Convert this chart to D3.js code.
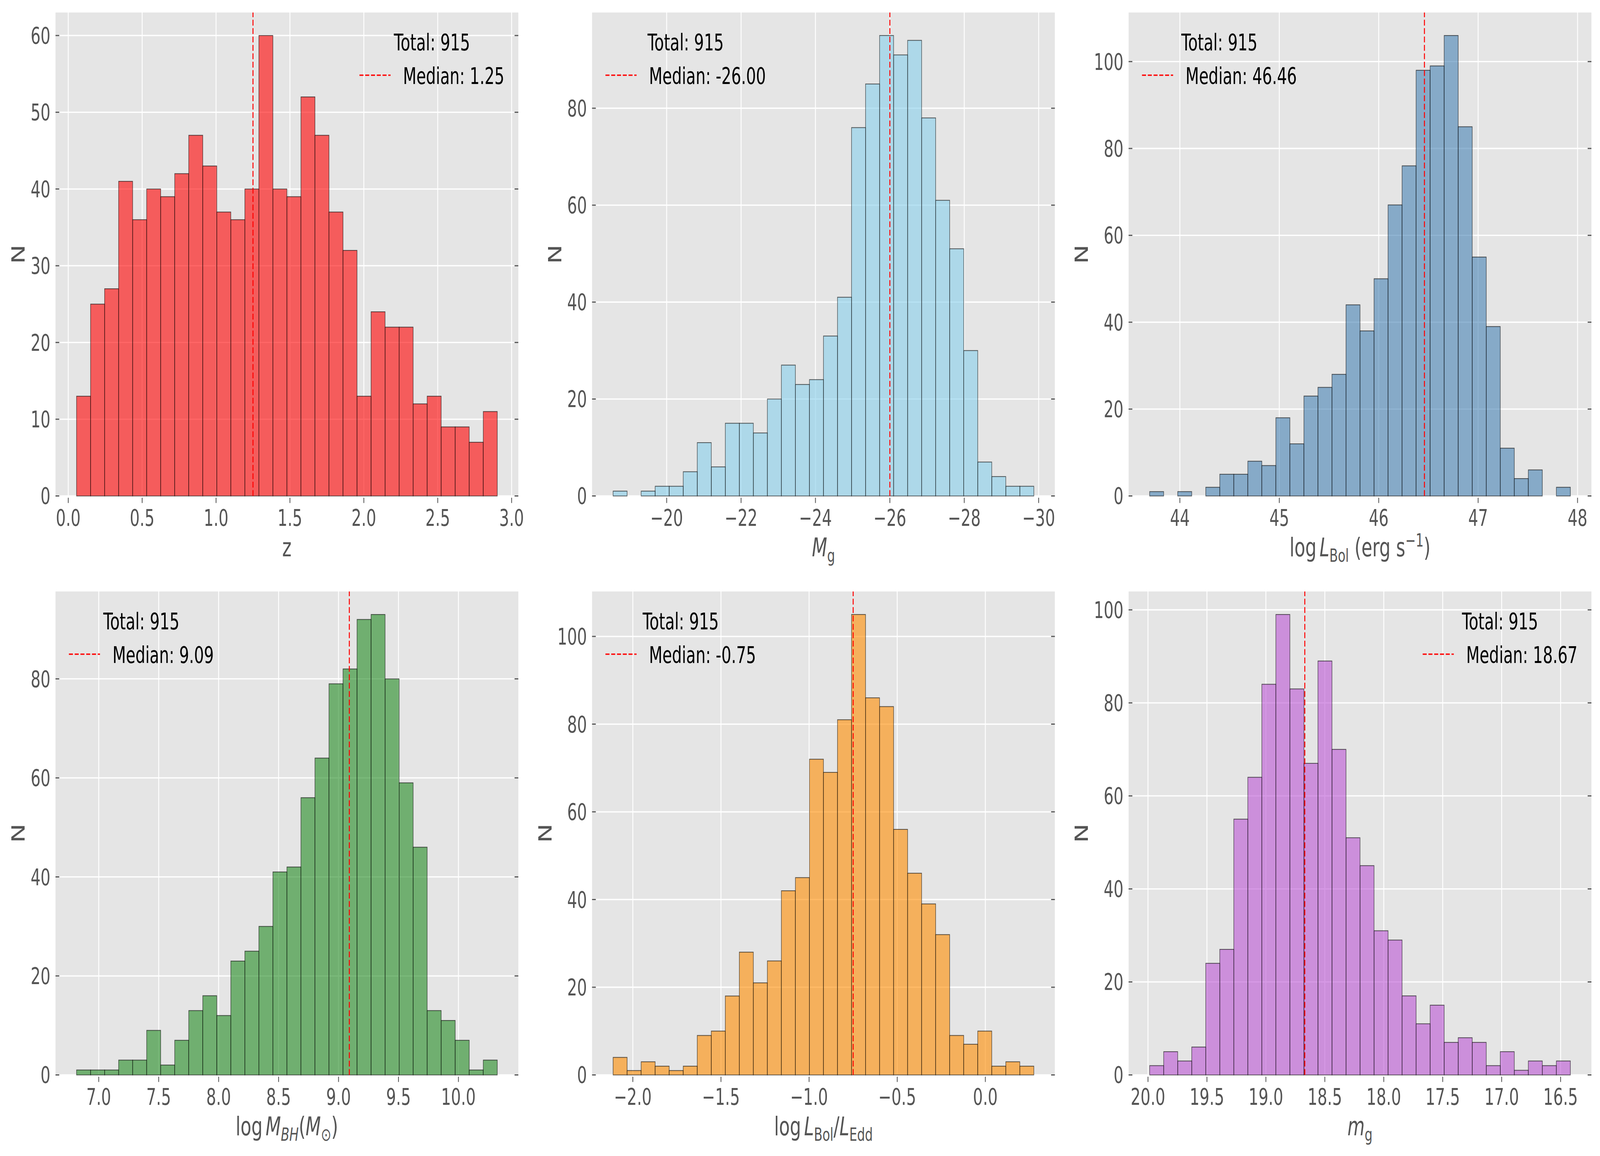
<!DOCTYPE html>
<html>
<head>
<meta charset="utf-8">
<script src="https://cdn.jsdelivr.net/npm/d3@7"></script>
<style>
html, body { margin: 0; padding: 0; background: #fff; overflow: hidden; width: 100%; height: 100%; }
#chart svg { display: block; width: 100vw; height: 100vh; }
text { font-family: "DejaVu Sans", sans-serif; }
</style>
</head>
<body>
<div id="chart"></div>
<script>
// ---- data (30 bins each, 915 objects) ----
var zCounts = [13,25,27,41,36,40,39,42,47,43,37,36,40,60,40,39,52,47,37,32,13,24,22,22,12,13,9,9,7,11];
var zRange = [0.056, 2.903];
var zTicks = [0, 0.5, 1, 1.5, 2, 2.5, 3];
var zYTicks = [0, 10, 20, 30, 40, 50, 60];
var zMedian = 1.25;

var MgCounts = [2,2,4,7,30,51,61,78,94,91,95,85,76,41,33,24,23,27,20,13,15,15,6,11,5,2,2,1,0,1];
var MgRange = [-29.87, -18.56];
var MgTicks = [-20, -22, -24, -26, -28, -30];
var MgYTicks = [0, 20, 40, 60, 80];
var MgMedian = -26.00;

var LbolCounts = [1,0,1,0,2,5,5,8,7,18,12,23,25,28,44,38,50,67,76,98,99,106,85,55,39,11,4,6,0,2];
var LbolRange = [43.696, 47.928];
var LbolTicks = [44, 45, 46, 47, 48];
var LbolYTicks = [0, 20, 40, 60, 80, 100];
var LbolMedian = 46.46;

var MbhCounts = [1,1,1,3,3,9,2,7,13,16,12,23,25,30,41,42,56,64,79,82,92,93,80,59,46,13,11,7,1,3];
var MbhRange = [6.815, 10.324];
var MbhTicks = [7, 7.5, 8, 8.5, 9, 9.5, 10];
var MbhYTicks = [0, 20, 40, 60, 80];
var MbhMedian = 9.09;

var EddCounts = [4,1,3,2,1,2,9,10,18,28,21,26,42,45,72,69,81,105,86,84,56,46,39,32,9,7,10,2,3,2];
var EddRange = [-2.112, 0.275];
var EddTicks = [-2, -1.5, -1, -0.5, 0];
var EddYTicks = [0, 20, 40, 60, 80, 100];
var EddMedian = -0.75;

var mgCounts = [3,2,3,1,5,2,7,8,7,15,11,17,29,31,45,51,70,89,67,83,99,84,64,55,27,24,6,3,5,2];
var mgRange = [16.417, 19.986];
var mgTicks = [20, 19.5, 19, 18.5, 18, 17.5, 17, 16.5];
var mgYTicks = [0, 20, 40, 60, 80, 100];
var mgMedian = 18.67;

var total = 915;

// ---- figure layout ----
var W = 5967, H = 2959;
var colLeft = [207, 2208, 4209], panelW = 1726;
var rowTop = [32, 1514], panelH = 1237.5;
var tickFont = 58, labelFont = 66, legendFont = 58;

var panels = [
	{counts: zCounts, range: zRange, ticks: zTicks, yticks: zYTicks, median: zMedian,
	 color: 'red', flip: false, fmt: d3.format('.1f'), legend: 'right',
	 xlabel: [['z', 'n']]},
	{counts: MgCounts, range: MgRange, ticks: MgTicks, yticks: MgYTicks, median: MgMedian,
	 color: 'skyblue', flip: true, fmt: d3.format('d'), legend: 'left',
	 xlabel: [['M', 'i'], ['g', 'sub']]},
	{counts: LbolCounts, range: LbolRange, ticks: LbolTicks, yticks: LbolYTicks, median: LbolMedian,
	 color: 'steelblue', flip: false, fmt: d3.format('d'), legend: 'left',
	 xlabel: [['log', 'n'], ['L', 'i', 0.17], ['Bol', 'sub'], [' (erg s', 'n'], ['\u22121', 'sup'], [')', 'n']]},
	{counts: MbhCounts, range: MbhRange, ticks: MbhTicks, yticks: MbhYTicks, median: MbhMedian,
	 color: 'forestgreen', flip: false, fmt: d3.format('.1f'), legend: 'left',
	 xlabel: [['log', 'n'], ['M', 'i', 0.17], ['BH', 'subi'], ['(', 'n'], ['M', 'i'], ['\u2299', 'sub'], [')', 'n']]},
	{counts: EddCounts, range: EddRange, ticks: EddTicks, yticks: EddYTicks, median: EddMedian,
	 color: 'darkorange', flip: false, fmt: d3.format('.1f'), legend: 'left',
	 xlabel: [['log', 'n'], ['L', 'i', 0.17], ['Bol', 'sub'], ['/', 'n'], ['L', 'i'], ['Edd', 'sub']]},
	{counts: mgCounts, range: mgRange, ticks: mgTicks, yticks: mgYTicks, median: mgMedian,
	 color: 'mediumorchid', flip: true, fmt: d3.format('.1f'), legend: 'right',
	 xlabel: [['m', 'i'], ['g', 'sub']]}
];

var svg = d3.select('#chart').append('svg')
	.attr('viewBox', '0 0 ' + W + ' ' + H)
	.attr('preserveAspectRatio', 'none');
svg.append('rect').attr('width', W).attr('height', H).attr('fill', '#fff');

// writes a small mathtext-like label into a text element
function mathLabel(sel, parts, size) {
	var shift = 0;
	parts.forEach(function(p) {
		var want = (p[1] === 'sub' || p[1] === 'subi') ? size * 0.2 : (p[1] === 'sup' ? -size * 0.38 : 0);
		var ts = sel.append('tspan').text(p[0]).attr('dy', want - shift);
		shift = want;
		if (p[1] === 'sub' || p[1] === 'subi' || p[1] === 'sup') ts.attr('font-size', size * 0.7);
		if (p[1] === 'i' || p[1] === 'subi') ts.attr('font-style', 'italic');
		if (p[2]) ts.attr('dx', p[2] * size);
	});
}

panels.forEach(function(p, i) {
	var left = colLeft[i % 3], top = rowTop[Math.floor(i / 3)];
	var right = left + panelW, bottom = top + panelH;
	var lo = p.range[0], hi = p.range[1], span = hi - lo;
	var nb = p.counts.length, bw = span / nb;
	var xlim = [lo - 0.05 * span, hi + 0.05 * span];
	if (p.flip) xlim.reverse();

	var x = d3.scaleLinear().domain(xlim).range([left, right]);
	var y = d3.scaleLinear().domain([0, d3.max(p.counts) * 1.05]).range([bottom, top]);

	var g = svg.append('g').attr('class', 'panel');

	g.append('rect')
		.attr('x', left).attr('y', top)
		.attr('width', panelW).attr('height', panelH)
		.attr('fill', '#E5E5E5');

	// grid
	g.selectAll('line.gx').data(p.ticks).enter().append('line')
		.attr('class', 'gx')
		.attr('x1', function(d) { return x(d); }).attr('x2', function(d) { return x(d); })
		.attr('y1', top).attr('y2', bottom)
		.attr('stroke', '#fff').attr('stroke-width', 3.3);
	g.selectAll('line.gy').data(p.yticks).enter().append('line')
		.attr('class', 'gy')
		.attr('y1', function(d) { return y(d); }).attr('y2', function(d) { return y(d); })
		.attr('x1', left).attr('x2', right)
		.attr('stroke', '#fff').attr('stroke-width', 3.3);

	// bars
	var bins = p.counts.map(function(c, k) {
		return {x0: lo + k * bw, x1: lo + (k + 1) * bw, n: c};
	}).filter(function(d) { return d.n > 0; });

	g.selectAll('rect.bar').data(bins).enter().append('rect')
		.attr('class', 'bar')
		.attr('x', function(d) { return Math.min(x(d.x0), x(d.x1)); })
		.attr('width', function(d) { return Math.abs(x(d.x1) - x(d.x0)); })
		.attr('y', function(d) { return y(d.n); })
		.attr('height', function(d) { return y(0) - y(d.n); })
		.attr('fill', p.color).attr('fill-opacity', 0.6)
		.attr('stroke', '#000').attr('stroke-opacity', 0.6).attr('stroke-width', 2.1);

	// median line
	g.append('line')
		.attr('x1', x(p.median)).attr('x2', x(p.median))
		.attr('y1', bottom).attr('y2', top)
		.attr('stroke', 'red').attr('stroke-width', 3.6)
		.attr('stroke-dasharray', '15,6.5');

	// ticks
	g.selectAll('line.tx').data(p.ticks).enter().append('line')
		.attr('class', 'tx')
		.attr('x1', function(d) { return x(d); }).attr('x2', function(d) { return x(d); })
		.attr('y1', bottom + 4.5).attr('y2', bottom + 18)
		.attr('stroke', '#555').attr('stroke-width', 3);
	[[left, left + 14], [right - 14, right]].forEach(function(s) {
		g.selectAll(null).data(p.yticks).enter().append('line')
			.attr('x1', s[0]).attr('x2', s[1])
			.attr('y1', function(d) { return y(d); }).attr('y2', function(d) { return y(d); })
			.attr('stroke', '#555').attr('stroke-width', 3);
	});

	// tick labels
	g.selectAll('text.xl').data(p.ticks).enter().append('text')
		.attr('class', 'xl')
		.attr('x', function(d) { return x(d); })
		.attr('y', bottom + 77)
		.attr('text-anchor', 'middle')
		.attr('font-size', tickFont).attr('fill', '#555')
		.text(function(d) { return p.fmt(d); });
	var yl = g.selectAll('text.yl').data(p.yticks).enter().append('text')
		.attr('class', 'yl')
		.attr('x', left - 19)
		.attr('y', function(d) { return y(d) + 21; })
		.attr('text-anchor', 'end')
		.attr('font-size', tickFont).attr('fill', '#555')
		.text(function(d) { return d; });
	var maxW = 0;
	yl.each(function() { maxW = Math.max(maxW, this.getComputedTextLength()); });

	// axis labels
	g.append('text')
		.attr('transform', 'translate(' + (left - 19 - maxW - 22) + ',' + (top + panelH / 2) + ') rotate(-90)')
		.attr('text-anchor', 'middle')
		.attr('font-size', labelFont).attr('fill', '#555')
		.text('N');
	var xlab = g.append('text')
		.attr('x', (left + right) / 2)
		.attr('y', bottom + 155)
		.attr('text-anchor', 'middle')
		.attr('font-size', labelFont).attr('fill', '#555');
	mathLabel(xlab, p.xlabel, labelFont);

	// legend
	var handleLen = 2 * legendFont, handlePad = 0.8 * legendFont;
	var med = g.append('text')
		.attr('y', top + 183)
		.attr('font-size', legendFont).attr('fill', '#000')
		.text('Median: ' + p.median.toFixed(2));
	var tw = med.node().getComputedTextLength();
	var boxW = handleLen + handlePad + tw;
	var x0 = p.legend === 'left' ? left + 50 : right - 52 - boxW;
	med.attr('x', x0 + handleLen + handlePad);
	g.append('line')
		.attr('x1', x0).attr('x2', x0 + handleLen)
		.attr('y1', top + 160.5).attr('y2', top + 160.5)
		.attr('stroke', 'red').attr('stroke-width', 3.6)
		.attr('stroke-dasharray', '15,6.5');
	g.append('text')
		.attr('x', x0 + boxW / 2)
		.attr('y', top + 97)
		.attr('text-anchor', 'middle')
		.attr('font-size', legendFont).attr('fill', '#000')
		.text('Total: ' + total);
});
</script>
</body>
</html>
